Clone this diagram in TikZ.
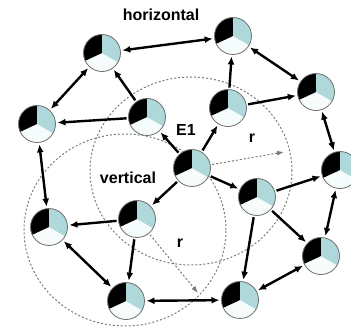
\documentclass[tikz,border=0pt]{standalone}
\usepackage{fontspec}
\setmainfont{Liberation Sans}
\usepackage{xcolor}
\definecolor{cCell}{HTML}{AED8DA}
\definecolor{cPale}{HTML}{F6FBFB}
\definecolor{cRim}{HTML}{707070}
\definecolor{cZone}{HTML}{7A7A7A}
\usetikzlibrary{arrows.meta,shapes.geometric}
\tikzset{
  node-cell/.style={circle,draw=cRim,line width=0.8pt,fill=cPale,
    minimum size=37pt,inner sep=0pt,outer sep=2pt,
    path picture={
      \fill[black] (path picture bounding box.center) -- ++(90:20pt)
        arc[start angle=90,end angle=205,radius=20pt] -- cycle;
      \fill[cCell] (path picture bounding box.center) -- ++(90:20pt)
        arc[start angle=90,end angle=-30,radius=20pt] -- cycle;
    }},
  node-zone/.style={ellipse,draw=cZone,line width=1pt,
    dash pattern=on 2pt off 2pt,inner sep=0pt},
  node-label/.style={font=\fontsize{16}{18}\selectfont\bfseries,inner sep=0pt},
  arrow/.style={-{Latex[length=8pt,width=7pt]},line width=2.4pt},
  arrow-both/.style={{Latex[length=8pt,width=7pt]}-{Latex[length=8pt,width=7pt]},
    line width=2.4pt},
  arrow-radius/.style={-{Latex[length=7pt,width=5pt]},draw=cZone,line width=1pt,
    dash pattern=on 2pt off 2pt},
}
\begin{document}
\begin{tikzpicture}[x=1pt,y=-1pt]
  \useasboundingbox (0,0) rectangle (351,329);
  % neighbourhoods
  \node[node-zone,minimum width=202pt,minimum height=188pt] (hzone) at (191,171) {};
  \node[node-zone,minimum width=202pt,minimum height=192pt] (vzone) at (125,230) {};
  % cells
  \node[node-cell] (e1)  at (192,168) {};
  \node[node-cell] (nw)  at (102,53)  {};
  \node[node-cell] (n)   at (233,36)  {};
  \node[node-cell] (ne)  at (316,92)  {};
  \node[node-cell] (e)   at (340,170) {};
  \node[node-cell] (se)  at (321,256) {};
  \node[node-cell] (s)   at (240,300) {};
  \node[node-cell] (sw)  at (126,301) {};
  \node[node-cell] (w)   at (49,227)  {};
  \node[node-cell] (wnw) at (37,124)  {};
  \node[node-cell] (in1) at (147,117) {};
  \node[node-cell] (in2) at (228,108) {};
  \node[node-cell] (in3) at (137,219) {};
  \node[node-cell] (in4) at (257,197) {};
  \coordinate (r1) at (284,152);
  \coordinate (r2) at (198,293);
  % labels
  \node[node-label] (lhor) at (161,15)  {horizontal};
  \node[node-label] (lver) at (128,178) {vertical};
  \node[node-label] (le1)  at (186,130) {E1};
  \node[node-label] (lr1)  at (252,138) {r};
  \node[node-label] (lr2)  at (180,243) {r};
  % links
  \draw[arrow-both] (nw)  -- (n);
  \draw[arrow-both] (nw)  -- (wnw);
  \draw[arrow-both] (n)   -- (ne);
  \draw[arrow-both] (ne)  -- (e);
  \draw[arrow-both] (e)   -- (se);
  \draw[arrow-both] (se)  -- (s);
  \draw[arrow-both] (s)   -- (sw);
  \draw[arrow-both] (sw)  -- (w);
  \draw[arrow-both] (w)   -- (wnw);
  \draw[arrow] (in1) -- (nw);
  \draw[arrow] (in1) -- (wnw);
  \draw[arrow] (e1)  -- (in1);
  \draw[arrow] (e1)  -- (in2);
  \draw[arrow] (in2) -- (n);
  \draw[arrow] (in2) -- (ne);
  \draw[arrow] (e1)  -- (in4);
  \draw[arrow] (e1)  -- (in3);
  \draw[arrow] (in3) -- (w);
  \draw[arrow] (in3) -- (sw);
  \draw[arrow] (in4) -- (e);
  \draw[arrow] (in4) -- (se);
  \draw[arrow] (in4) -- (s);
  \draw[arrow-radius] (e1)  -- (r1);
  \draw[arrow-radius] (in3) -- (r2);
\end{tikzpicture}
\end{document}
